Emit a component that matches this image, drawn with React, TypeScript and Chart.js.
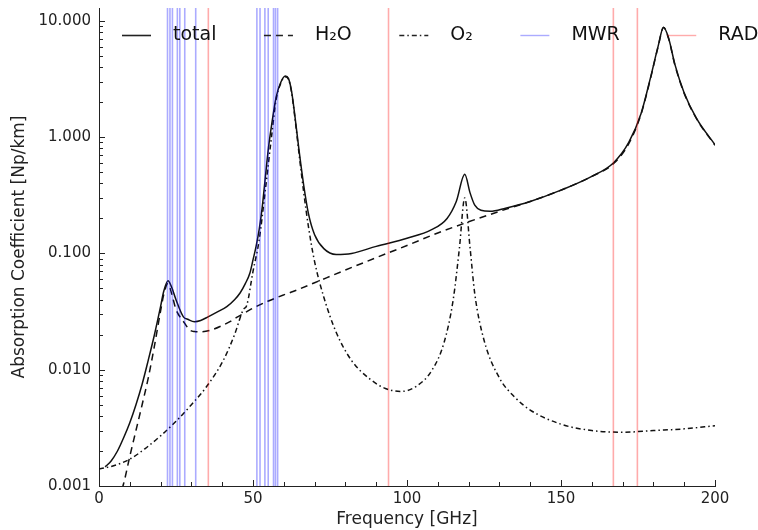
import React, { useEffect, useRef } from "react";
import { Chart, registerables } from "chart.js";

Chart.register(...registerables);

// ---------- data ----------
const totalFreq = [2, 4, 6, 8, 10, 12, 14, 16, 18, 20, 21, 22.4, 23.5, 25, 27.4, 29, 31, 33, 35.4, 38, 41.5, 44, 45.8, 47.5, 49, 50, 51, 52, 53, 54, 55, 56, 57.5, 59, 60.5, 61.5, 62.5, 63.5, 65, 66.5, 68, 70, 73, 77, 82, 90, 100, 108, 113, 116, 118.75, 120.5, 122, 124, 127, 132, 140, 150, 160, 167, 172, 176, 179, 181.5, 183.3, 185, 187, 190, 194, 200];
const totalVal = [0.00146, 0.00165, 0.002, 0.0026, 0.0035, 0.005, 0.0075, 0.0121, 0.02, 0.035, 0.047, 0.0583, 0.052, 0.04, 0.0285, 0.027, 0.0259, 0.0265, 0.0285, 0.031, 0.0349, 0.04, 0.0457, 0.055, 0.068, 0.088, 0.115, 0.16, 0.25, 0.45, 0.8, 1.25, 2.2, 2.95, 3.35, 3.2, 2.5, 1.6, 0.75, 0.38, 0.22, 0.145, 0.11, 0.098, 0.1, 0.115, 0.135, 0.16, 0.2, 0.28, 0.48, 0.33, 0.26, 0.235, 0.23, 0.245, 0.28, 0.35, 0.46, 0.6, 0.9, 1.6, 3.2, 6.0, 8.8, 7.0, 4.2, 2.4, 1.45, 0.86];

const h2oFreq = [5, 8, 10, 12, 14, 16, 18, 20, 21, 22.4, 23.5, 25, 27.4, 29.5, 31, 32.8, 36, 40, 42.5, 45, 48, 50, 55, 60, 63, 70, 80, 90, 100, 110, 120, 130, 140, 150, 160, 167, 172, 176, 179, 181.5, 183.3, 185, 187, 190, 194, 200];
const h2oVal = [0.0006, 0.00105, 0.0018, 0.003, 0.005, 0.0085, 0.016, 0.032, 0.044, 0.055, 0.046, 0.033, 0.026, 0.0219, 0.0213, 0.0212, 0.0218, 0.024, 0.0259, 0.0285, 0.0316, 0.0338, 0.039, 0.044, 0.047, 0.056, 0.072, 0.092, 0.117, 0.15, 0.187, 0.23, 0.28, 0.35, 0.46, 0.59, 0.88, 1.58, 3.15, 5.95, 8.75, 6.95, 4.15, 2.38, 1.44, 0.85];

const o2Freq = [0, 5, 10, 15, 20, 25, 30, 35, 40.4, 44, 46.8, 48, 50, 52, 54, 56, 57.5, 59, 60.5, 61.5, 62.5, 63.5, 65, 66.5, 68, 70, 73, 77, 82, 88, 93, 98, 103, 108, 112, 115, 117, 118.75, 120.5, 122, 125, 130, 135, 140, 150, 160, 170, 180, 190, 200];
const o2Val = [0.0014, 0.0015, 0.0017, 0.0021, 0.0027, 0.0036, 0.005, 0.0072, 0.0121, 0.02, 0.0327, 0.036, 0.07, 0.13, 0.35, 1.0, 2.1, 2.9, 3.3, 3.15, 2.45, 1.55, 0.7, 0.33, 0.17, 0.085, 0.042, 0.021, 0.012, 0.0083, 0.0069, 0.0065, 0.0072, 0.0098, 0.017, 0.04, 0.11, 0.3, 0.11, 0.045, 0.018, 0.0085, 0.0058, 0.0045, 0.0034, 0.003, 0.0029, 0.003, 0.0031, 0.0033];

const mwrFreq = [22.24, 23.04, 23.84, 25.44, 26.24, 27.84, 31.4, 51.26, 52.28, 53.86, 54.94, 56.66, 57.3, 58.0];
const radFreq = [35.5, 94, 167, 174.8];

const X_MIN = 0;
const X_MAX = 200;
const Y_MIN = 0.001;
const Y_MAX = 12.9;
const xMajorTicks = [0, 50, 100, 150, 200];
const xMinorStep = 10;
const yMajorTicks = [0.001, 0.01, 0.1, 1, 10];

const legendLabels = ["total", "H\u2082O", "O\u2082", "MWR", "RAD"];

// ---------- helpers ----------
const pts = (xs: number[], ys: number[]) => xs.map((x, i) => ({ x, y: ys[i] }));
const vlines = (fs: number[]) => {
  const out: any[] = [];
  fs.forEach((f) => {
    out.push({ x: f, y: 1e-4 });
    out.push({ x: f, y: 100 });
    out.push({ x: f, y: null });
  });
  return out;
};

const FONT = "'DejaVu Sans', sans-serif";
const INK = "#222";
const BLUE = "rgba(0,0,255,0.33)";
const RED = "rgba(255,0,0,0.33)";

const legendStyles = [
  { color: "#222", dash: [] as number[], width: 1.6 },
  { color: "#222", dash: [7, 5], width: 1.6 },
  { color: "#222", dash: [5, 3, 1.5, 3], width: 1.6 },
  { color: BLUE, dash: [] as number[], width: 1.4 },
  { color: RED, dash: [] as number[], width: 1.4 },
];

const ticksPlugin = {
  id: "inwardTicks",
  afterDatasetsDraw(chart: any) {
    const { ctx, chartArea: a, scales } = chart;
    const x = scales.x;
    const y = scales.y;
    ctx.save();
    ctx.strokeStyle = INK;
    ctx.lineWidth = 1;
    ctx.beginPath();
    for (let v = X_MIN; v <= X_MAX; v += xMinorStep) {
      const px = Math.round(x.getPixelForValue(v)) + 0.5;
      const len = xMajorTicks.includes(v) ? 6 : 4;
      ctx.moveTo(px, a.bottom);
      ctx.lineTo(px, a.bottom - len);
    }
    for (let d = -3; d <= 1; d++) {
      for (let m = 1; m <= 9; m++) {
        const v = m * Math.pow(10, d);
        if (v < Y_MIN * 0.999 || v > Y_MAX) continue;
        const py = Math.round(y.getPixelForValue(v)) + 0.5;
        const len = m === 1 ? 6 : 4;
        ctx.moveTo(a.left, py);
        ctx.lineTo(a.left + len, py);
      }
    }
    ctx.stroke();
    ctx.restore();
  },
  afterDraw(chart: any) {
    const { ctx } = chart;
    ctx.save();
    ctx.font = `19px ${FONT}`;
    ctx.textBaseline = "middle";
    ctx.textAlign = "left";
    let cx = 122;
    const cy = 35.5;
    const handle = 29;
    legendLabels.forEach((label, i) => {
      const st = legendStyles[i];
      ctx.beginPath();
      ctx.strokeStyle = st.color;
      ctx.lineWidth = st.width;
      ctx.setLineDash(st.dash);
      ctx.moveTo(cx, cy);
      ctx.lineTo(cx + handle, cy);
      ctx.stroke();
      ctx.setLineDash([]);
      ctx.fillStyle = "#111";
      const tx = cx + handle + 22;
      ctx.fillText(label, tx, cy);
      cx = tx + ctx.measureText(label).width + 47.5;
    });
    ctx.restore();
  },
};

export default function App() {
  const ref = useRef<HTMLCanvasElement | null>(null);
  useEffect(() => {
    if (!ref.current) return;
    const lineBase = {
      borderWidth: 1.5,
      pointRadius: 0,
      cubicInterpolationMode: "monotone" as const,
      fill: false,
    };
    const chart = new Chart(ref.current, {
      type: "line",
      data: {
        datasets: [
          { label: "MWR", data: vlines(mwrFreq), borderColor: BLUE, borderWidth: 1.6, pointRadius: 0, spanGaps: false, order: 0 },
          { label: "RAD", data: vlines(radFreq), borderColor: RED, borderWidth: 1.6, pointRadius: 0, spanGaps: false, order: 0 },
          { label: "total", data: pts(totalFreq, totalVal), borderColor: "#111", ...lineBase, order: 1 },
          { label: "H\u2082O", data: pts(h2oFreq, h2oVal), borderColor: "#111", borderDash: [7, 5], ...lineBase, order: 2 },
          { label: "O\u2082", data: pts(o2Freq, o2Val), borderColor: "#111", borderDash: [5, 3, 1.5, 3], ...lineBase, order: 3 },
        ] as any,
      },
      options: {
        responsive: false,
        animation: false,
        devicePixelRatio: 1,
        layout: { padding: { top: 8, right: 43, left: 0, bottom: 0 } },
        plugins: { legend: { display: false }, tooltip: { enabled: false } },
        elements: { line: { tension: 0 } },
        scales: {
          x: {
            type: "linear",
            min: X_MIN,
            max: X_MAX,
            grid: { display: false, drawTicks: false },
            border: { display: true, color: INK, width: 1 },
            afterBuildTicks: (s: any) => {
              s.ticks = xMajorTicks.map((v) => ({ value: v }));
            },
            afterFit: (s: any) => {
              s.height = 44;
              s.paddingLeft = 0;
              s.paddingRight = 0;
            },
            ticks: { color: INK, font: { family: FONT, size: 15 }, padding: 4, maxRotation: 0 },
            title: { display: true, text: "Frequency [GHz]", color: INK, font: { family: FONT, size: 17 }, padding: { top: 0, bottom: 0 } },
          },
          y: {
            type: "logarithmic",
            min: Y_MIN,
            max: Y_MAX,
            grid: { display: false, drawTicks: false },
            border: { display: true, color: INK, width: 1 },
            afterBuildTicks: (s: any) => {
              s.ticks = yMajorTicks.map((v) => ({ value: v }));
            },
            afterFit: (s: any) => {
              s.width = 99;
              s.paddingTop = 0;
              s.paddingBottom = 0;
            },
            ticks: {
              color: INK,
              font: { family: FONT, size: 15 },
              padding: 8,
              callback: (v: any) => Number(v).toFixed(3),
            },
            title: { display: true, text: "Absorption Coefficient [Np/km]", color: INK, font: { family: FONT, size: 17 }, padding: { top: 9, bottom: 0 } },
          },
        },
      },
      plugins: [ticksPlugin],
    } as any);
    return () => chart.destroy();
  }, []);
  return (
    <div style={{ position: "absolute", left: 0, top: 0, width: 758, height: 530, background: "#fff" }}>
      <canvas ref={ref} width={758} height={530} style={{ width: 758, height: 530, display: "block" }} />
    </div>
  );
}
